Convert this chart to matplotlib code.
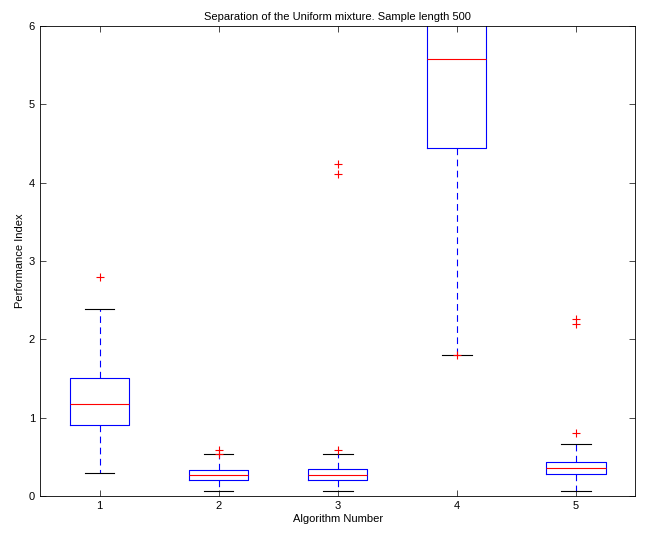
import matplotlib
matplotlib.use('Agg')
import matplotlib.pyplot as plt

plt.rcParams['font.family'] = ['Liberation Sans', 'DejaVu Sans']
plt.rcParams['font.size'] = 8

# five-number summaries
positions = [1, 2, 3, 4, 5]
whislo = [0.30, 0.07, 0.07, 1.80, 0.07]
q1 = [0.91, 0.20, 0.20, 4.44, 0.28]
med = [1.18, 0.27, 0.27, 5.58, 0.36]
q3 = [1.50, 0.33, 0.34, 6.80, 0.44]
whishi = [2.39, 0.53, 0.53, 7.60, 0.67]
fliers = [[2.79], [0.59, 0.54], [4.24, 4.11, 0.59], [1.80], [2.26, 2.20, 0.80]]

stats = []
for i in range(5):
    stats.append(dict(whislo=whislo[i], q1=q1[i], med=med[i], q3=q3[i],
                      whishi=whishi[i], fliers=fliers[i]))

fig = plt.figure(figsize=(6.48, 5.33), dpi=100)
ax = fig.add_axes([0.0617, 0.0694, 0.9187, 0.882])

ax.bxp(stats, positions=positions, widths=0.5,
       boxprops=dict(color='blue', linewidth=0.8),
       medianprops=dict(color='red', linewidth=0.8),
       whiskerprops=dict(color='blue', linestyle=(0, (6, 4)), linewidth=0.8),
       capprops=dict(color='black', linewidth=0.8),
       flierprops=dict(marker='+', markeredgecolor='red', markersize=6,
                       markeredgewidth=0.8, linestyle='none'),
       capwidths=0.25)

ax.set_xlim(0.5, 5.5)
ax.set_ylim(0, 6)
ax.set_xticks(positions)
ax.set_xticklabels([str(p) for p in positions])
ax.set_yticks(range(7))
ax.tick_params(direction='in', top=True, right=True, length=4, width=0.5)
for s in ax.spines.values():
    s.set_linewidth(0.6)

ax.set_title('Separation of the Uniform mixture. Sample length 500', fontsize=8, pad=4)
ax.set_xlabel('Algorithm Number', labelpad=2)
ax.set_ylabel('Performance Index', labelpad=3)

fig.savefig('out.png', dpi=100)
